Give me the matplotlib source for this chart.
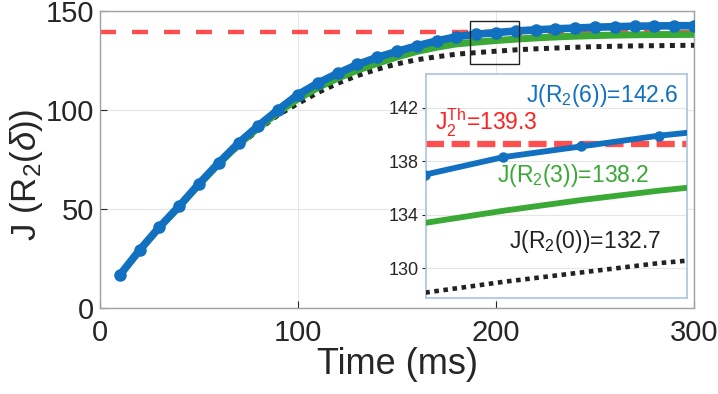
import numpy as np
import matplotlib
matplotlib.use('Agg')
import matplotlib.pyplot as plt
from matplotlib.patches import Rectangle

plt.rcParams['font.family'] = ['Liberation Sans', 'DejaVu Sans']
plt.rcParams['mathtext.fontset'] = 'custom'
plt.rcParams['mathtext.rm'] = 'Liberation Sans'
plt.rcParams['mathtext.it'] = 'Liberation Sans:italic'

# data
t = [10, 20, 30, 40, 50, 60, 70, 80, 90, 100,
     110, 120, 130, 140, 150, 160, 170, 180, 190, 200,
     210, 220, 230, 240, 250, 260, 270, 280, 290, 300]
j6 = [16.7, 29.3, 40.9, 51.5, 62.8, 73.4, 83.4, 92.1, 100.2, 107.8,
      113.6, 118.5, 123.0, 126.6, 129.6, 132.4, 134.9, 137.0, 138.3, 139.1,
      139.9, 140.5, 141.0, 141.4, 141.8, 142.1, 142.3, 142.45, 142.55, 142.6]
j3 = [16.5, 29.0, 40.6, 51.2, 62.3, 72.8, 82.6, 91.0, 98.8, 105.6,
      111.3, 116.1, 120.1, 123.6, 126.8, 129.6, 131.7, 133.4, 134.3, 135.1,
      135.8, 136.4, 136.9, 137.3, 137.6, 137.85, 138.0, 138.1, 138.15, 138.2]
j0 = [16.5, 29.0, 40.6, 51.2, 62.3, 72.6, 81.8, 90.0, 97.6, 103.3,
      108.8, 113.5, 117.4, 120.6, 123.3, 125.4, 126.9, 128.2, 129.0, 129.7,
      130.4, 130.9, 131.3, 131.7, 132.0, 132.2, 132.4, 132.5, 132.6, 132.7]
j_th = 139.3

blue = '#1170c0'
green = '#3aa935'
red = '#ff3c3c'
black = '#222222'

fig = plt.figure(figsize=(7.18, 3.94), dpi=100)
ax = fig.add_axes([0.1393, 0.2183, 0.8273, 0.7537])

ax.axhline(j_th, color=red, lw=3.2, ls=(0, (3.6, 3.6)), alpha=0.9, zorder=2)
ax.plot(t, j0, color=black, lw=3.6, ls=(0, (1, 1.1)), zorder=3)
ax.plot(t, j3, color=green, lw=5, zorder=4)
ax.plot(t, j6, color=blue, lw=5.5, marker='o', ms=8, zorder=5)

ax.set_xlim(0, 300)
ax.set_ylim(0, 150)
ax.set_xticks([0, 100, 200, 300])
ax.set_yticks([0, 50, 100, 150])
ax.tick_params(direction='in', labelsize=21, colors='#262626', length=5, width=0.8, pad=4)
ax.tick_params(axis='x', pad=8)
for s in ax.spines.values():
    s.set_color('#a0a0a0')
    s.set_linewidth(1.0)
ax.grid(True, color='#e6e6e6', lw=0.8)
ax.set_axisbelow(True)
ax.set_xlabel('Time (ms)', fontsize=26, color='#262626', labelpad=0)
ax.set_ylabel(r'J (R$_2$($\delta$))', fontsize=25, color='#262626')
ax.yaxis.set_label_coords(-0.093, 0.45)

ax.add_patch(Rectangle((187, 123), 24.6, 22, fill=False, ec='#222222', lw=1.0, zorder=6))

# inset
ins = fig.add_axes([0.5933, 0.2437, 0.3635, 0.5685])
ins.axhline(j_th, color=red, lw=4.5, ls=(0, (2.9, 1.2)), alpha=0.9, zorder=2)
ins.plot(t, j0, color=black, lw=3.3, ls=(0, (1, 1)), zorder=3)
ins.plot(t, j3, color=green, lw=4.2, zorder=4)
ins.plot(t, j6, color=blue, lw=4.2, marker='o', ms=6.5, zorder=5)
ins.set_xlim(180.1, 213.6)
ins.set_ylim(127.8, 144.5)
ins.set_xticks([])
ins.set_yticks([130, 134, 138, 142])
ins.tick_params(axis='y', direction='out', labelsize=13, colors='#262626', length=3, pad=2)
ins.grid(True, axis='y', color='#e6e6e6', lw=0.8)
for s in ins.spines.values():
    s.set_color('#a8c4e4')
    s.set_linewidth(1.2)

fs = 16.5
ins.text(0.966, 0.906, r'J(R$_2$(6))=142.6', color=blue, fontsize=fs,
         ha='right', va='center', transform=ins.transAxes)
ins.text(0.034, 0.78, r'J$_2^{\mathrm{Th}}$=139.3', color='#ff2020', fontsize=fs,
         ha='left', va='center', transform=ins.transAxes)
ins.text(0.272, 0.549, r'J(R$_2$(3))=138.2', color=green, fontsize=fs,
         ha='left', va='center', transform=ins.transAxes)
ins.text(0.318, 0.25, r'J(R$_2$(0))=132.7', color=black, fontsize=fs,
         ha='left', va='center', transform=ins.transAxes)

fig.savefig('out.png', dpi=100)
